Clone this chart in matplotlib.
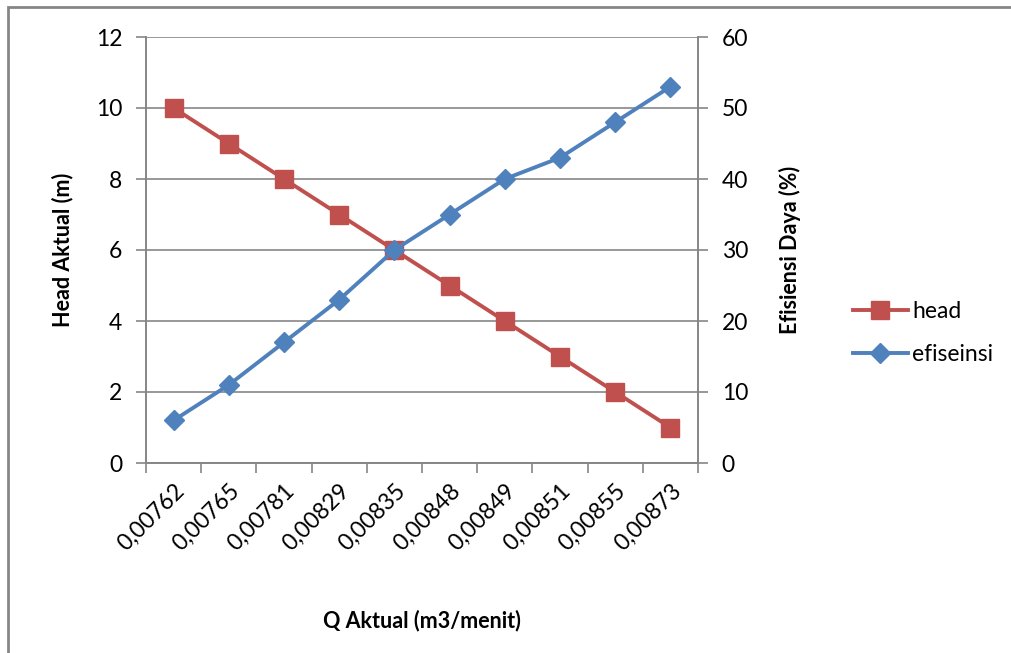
import matplotlib.pyplot as plt
from matplotlib.patches import Rectangle
from matplotlib.ticker import FixedLocator, NullFormatter

plt.rcParams['font.family'] = ['Lato', 'DejaVu Sans']

q_labels = ["0,00762", "0,00765", "0,00781", "0,00829", "0,00835",
            "0,00848", "0,00849", "0,00851", "0,00855", "0,00873"]
head = [10, 9, 8, 7, 6, 5, 4, 3, 2, 1]
efisiensi = [6, 11, 17, 23, 30, 35, 40, 43, 48, 53]

red = "#C0504D"
blue = "#4F81BD"
grey = "#868686"

fig = plt.figure(figsize=(10.12, 6.53), dpi=100)
ax = fig.add_axes([146 / 1012, 1 - 463 / 653, 552 / 1012, 426 / 653])
ax2 = ax.twinx()

x = list(range(len(q_labels)))
l1, = ax.plot(x, head, "-s", color=red, lw=2.8, ms=13, label="head")
l2, = ax2.plot(x, efisiensi, "-D", color=blue, lw=2.8, ms=10, label="efiseinsi")

ax.set_xlim(-0.5, len(q_labels) - 0.5)
ax.set_ylim(0, 12)
ax.set_yticks(range(0, 13, 2))
ax2.set_ylim(0, 60)
ax2.set_yticks(range(0, 61, 10))

ax.set_xticks(x)
ax.set_xticklabels(q_labels, rotation=45, ha="right", rotation_mode="anchor")
ax.xaxis.set_minor_locator(FixedLocator([i - 0.5 for i in range(len(q_labels) + 1)]))
ax.xaxis.set_minor_formatter(NullFormatter())
ax.tick_params(axis="x", which="major", length=0, pad=12, labelsize=16.5)
ax.tick_params(axis="x", which="minor", length=7, color=grey, width=1.2)
ax.tick_params(axis="y", length=7, color=grey, width=1.2, labelsize=16.5, pad=10)
ax2.tick_params(axis="y", length=7, color=grey, width=1.2, labelsize=16.5, pad=10)

ax.grid(axis="y", color=grey, lw=1.2)
ax.set_axisbelow(True)
for a in (ax, ax2):
    a.spines["top"].set_visible(False)
    for s in ("left", "right", "bottom"):
        a.spines[s].set_color(grey)
        a.spines[s].set_linewidth(1.2)

ax.set_xlabel("Q Aktual (m3/menit)", fontsize=15.5, fontweight="bold", labelpad=40)
ax.set_ylabel("Head Aktual (m)", fontsize=15.5, fontweight="bold", labelpad=16)
ax2.set_ylabel("Efisiensi Daya (%)", fontsize=15.5, fontweight="bold", labelpad=22)

fig.legend(handles=[l1, l2], loc="center left", bbox_to_anchor=(832 / 1012, 1 - 333 / 653),
           frameon=False, fontsize=16.5, handlelength=2.4, labelspacing=1.0,
           handletextpad=0.2)

fig.patches.append(Rectangle((8 / 1012, -0.1), 1.2, 1 - 7 / 653 + 0.1,
                             transform=fig.transFigure, fill=False,
                             edgecolor=grey, lw=2))

fig.savefig("out.png", dpi=100)
